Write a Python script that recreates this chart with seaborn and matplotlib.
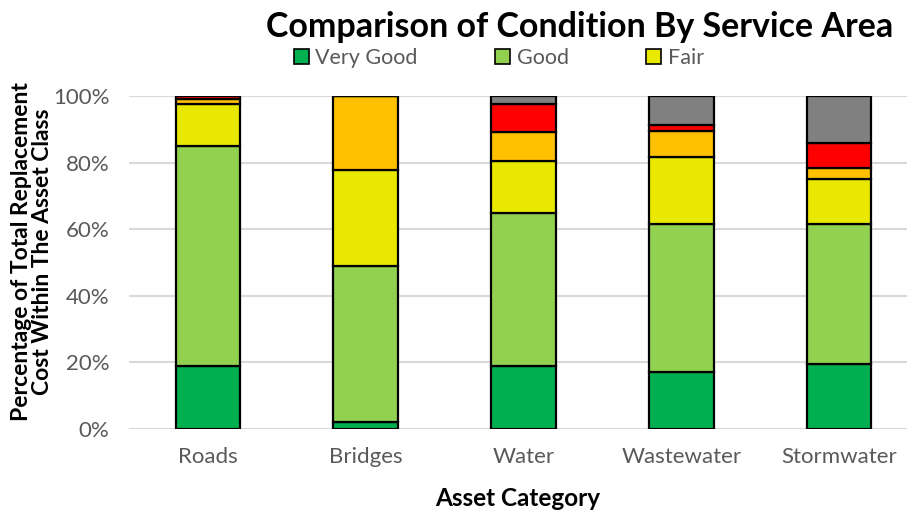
import numpy as np
import pandas as pd
import seaborn as sns
import matplotlib.pyplot as plt
from matplotlib.patches import Patch
from matplotlib.ticker import PercentFormatter

categories = ["Roads", "Bridges", "Water", "Wastewater", "Stormwater"]
very_good = [19.0, 2.0, 18.9, 17.1, 19.5]
good = [66.0, 47.0, 46.0, 44.5, 42.1]
fair = [12.6, 28.9, 15.6, 20.2, 13.6]
poor = [1.6, 22.1, 8.6, 7.8, 3.1]
very_poor = [0.8, 0.0, 8.5, 1.8, 7.7]
unknown = [0.0, 0.0, 2.4, 8.6, 14.0]

series = [("Very Good", very_good, "#00B050"),
          ("Good", good, "#92D050"),
          ("Fair", fair, "#E8E800"),
          ("Poor", poor, "#FFC000"),
          ("Very Poor", very_poor, "#FF0000"),
          ("Unknown", unknown, "#808080")]

sns.set_style("white")
plt.rcParams['font.family'] = ['Lato', 'DejaVu Sans']
plt.rcParams['text.color'] = 'black'

fig = plt.figure(figsize=(9.07, 5.13), dpi=100)
ax = fig.add_axes([129 / 907, 84 / 513, 1 - 129 / 907, 333 / 513])

bottom = np.zeros(len(categories))
for name, vals, color in series:
    df = pd.DataFrame({"cat": categories, "val": np.array(vals) / 100})
    sns.barplot(data=df, x="cat", y="val", color=color, bottom=bottom,
                width=0.41, edgecolor="black", linewidth=1.6, ax=ax,
                saturation=1, zorder=3)
    bottom = bottom + df["val"].values

ax.set_ylim(0, 1)
ax.set_xlim(-0.5, 4.43)
ax.yaxis.set_major_formatter(PercentFormatter(1.0, decimals=0))
ax.set_yticks(np.arange(0, 1.01, 0.2))
ax.grid(axis="y", color="#D9D9D9", linewidth=1.5, zorder=0)
for s in ax.spines.values():
    s.set_visible(False)
ax.tick_params(axis="both", length=0, colors="#595959", labelsize=16)
ax.tick_params(axis="x", pad=13)
ax.tick_params(axis="y", pad=14)

ax.set_ylabel("")
ax.set_xlabel("Asset Category", fontsize=17.5, fontweight="bold", labelpad=14,
              color="black")
fig.text(0.035, 0.51, "Percentage of Total Replacement\nCost Within The Asset Class",
         rotation=90, ha="center", va="center", fontsize=16.5, fontweight="bold",
         linespacing=1.0)

fig.text(0.6395, 0.947, "Comparison of Condition By Service Area",
         ha="center", va="center", fontsize=24.5, fontweight="bold")

handles = [Patch(facecolor=c, edgecolor="black", linewidth=1.2)
           for _, _, c in series[:3]]
labels = [n for n, _, _ in series[:3]]
fig.legend(handles, labels, loc="center", bbox_to_anchor=(0.55, 0.887),
           ncol=3, frameon=False, fontsize=15.5, handlelength=0.7,
           handleheight=0.7, handletextpad=0.3, columnspacing=3.6,
           labelcolor="#595959")

fig.savefig("out.png", dpi=100)
